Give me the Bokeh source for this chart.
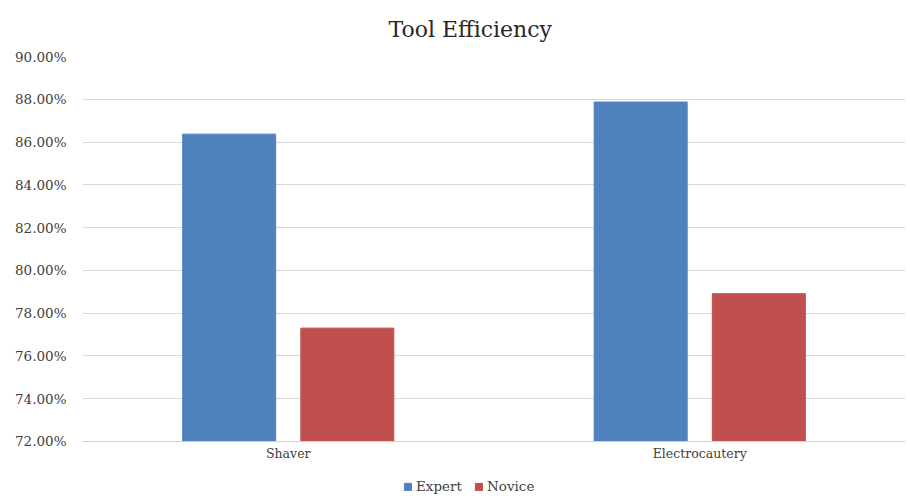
from bokeh.plotting import figure
from bokeh.models import (ColumnDataSource, FixedTicker, NumeralTickFormatter,
                          Legend, LegendItem, FactorRange, Span)
from bokeh.core.properties import value
from bokeh.transform import dodge
from bokeh.embed import file_html
from bokeh.resources import INLINE

categories = ["Shaver", "Electrocautery"]
expert = [0.8637, 0.8787]
novice = [0.7730, 0.7891]
y_ticks = [0.72, 0.74, 0.76, 0.78, 0.80, 0.82, 0.84, 0.86, 0.88, 0.90]
y_min, y_max = 0.72, 0.90

# extra room below the axis (in data units) for category labels and legend
pad_below = 0.02665
label_y = y_min - 0.0056

src = ColumnDataSource(dict(cat=categories, expert=expert, novice=novice,
                            base=[y_min] * len(categories),
                            label_y=[label_y] * len(categories)))

FONT = "DejaVu Serif"
p = figure(x_range=FactorRange(*categories), y_range=(y_min - pad_below, y_max),
           width=905, height=498,
           frame_width=823, frame_height=442, output_backend="svg", toolbar_location=None,
           title="Tool Efficiency")
p.min_border_left = 82
p.min_border_right = 0
p.min_border_top = 56
p.min_border_bottom = 0
p.outline_line_color = None
p.background_fill_color = "white"

p.title.align = "left"
p.title.offset = 306
p.title.standoff = 29
p.title.text_font = FONT
p.title.text_font_style = "normal"
p.title.text_font_size = "22px"
p.title.text_color = "#262626"

r1 = p.vbar(x=dodge("cat", -0.1436, range=p.x_range), top="expert", bottom="base",
            width=0.226, source=src, fill_color="#4F81BD", line_color="#4F81BD")
r2 = p.vbar(x=dodge("cat", 0.1436, range=p.x_range), top="novice", bottom="base",
            width=0.226, source=src, fill_color="#C0504D", line_color="#C0504D")

# category axis line and labels drawn inside the frame
p.add_layout(Span(location=y_min, dimension="width", line_color="#D0D0D0", line_width=1))
p.text(x="cat", y="label_y", text="cat", source=src, text_align="center",
       text_baseline="middle", text_font=value(FONT), text_font_size="12.5px",
       text_color="#404040")

p.yaxis.ticker = FixedTicker(ticks=y_ticks)
p.yaxis.formatter = NumeralTickFormatter(format="0.00%")
p.yaxis.axis_line_color = None
p.yaxis.major_tick_line_color = None
p.yaxis.minor_tick_line_color = None
p.yaxis.major_label_text_font = FONT
p.yaxis.major_label_text_font_size = "13.5px"
p.yaxis.major_label_text_color = "#404040"
p.yaxis.major_label_standoff = 10

p.xaxis.visible = False

p.xgrid.grid_line_color = None
p.ygrid.grid_line_color = "#D9D9D9"
p.ygrid.grid_line_width = 1

legend = Legend(items=[LegendItem(label="Expert", renderers=[r1]),
                       LegendItem(label="Novice", renderers=[r2])],
                orientation="horizontal", location=(321, 4))
legend.border_line_color = None
legend.background_fill_alpha = 0
legend.label_text_font = FONT
legend.label_text_font_size = "13.5px"
legend.label_text_color = "#404040"
legend.glyph_width = 9
legend.glyph_height = 9
legend.spacing = 12
legend.label_standoff = 4
legend.margin = 0
legend.padding = 0
p.add_layout(legend, "center")

open("out.html", "w").write(file_html(p, INLINE))
